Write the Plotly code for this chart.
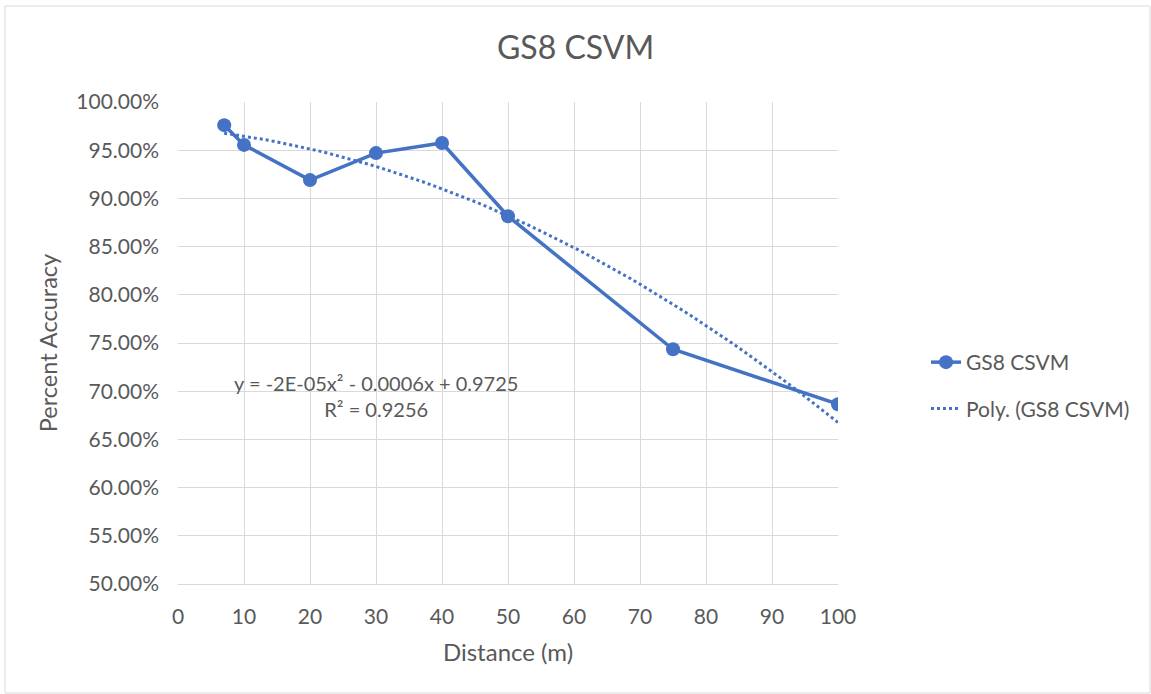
import numpy as np
import plotly.graph_objects as go

distance = [7, 10, 20, 30, 40, 50, 75, 100]
accuracy = [0.976, 0.9555, 0.919, 0.947, 0.9575, 0.8815, 0.7435, 0.6865]
x_ticks = list(range(0, 101, 10))
y_ticks = [0.5, 0.55, 0.6, 0.65, 0.7, 0.75, 0.8, 0.85, 0.9, 0.95, 1.0]

series_name = "GS8 CSVM"
trend_name = "Poly. (GS8 CSVM)"
color = "#4472C4"
font_family = "Lato, 'Open Sans', sans-serif"
text_color = "#595959"

# Polynomial (order 2) trend line fitted to the data, like Excel
coef = np.polyfit(distance, accuracy, 2)
trend_x = np.linspace(min(distance), max(distance), 60)
trend_y = np.polyval(coef, trend_x)

W, H = 1151, 694
L, R, T, B = 178, 838, 102, 584

fig = go.Figure()
fig.add_trace(go.Scatter(
    x=distance, y=accuracy, mode="lines+markers", name=series_name,
    line=dict(color=color, width=3.5), marker=dict(size=14, color=color),
    legendgroup="a",
))
fig.add_trace(go.Scatter(
    x=trend_x, y=trend_y, mode="lines", name=trend_name,
    line=dict(color=color, width=3, dash="dot"),
    legendgroup="b",
))

def px_x(p):
    return (p - L) / (R - L)

def px_y(p):
    return (B - p) / (B - T)

fig.update_layout(
    width=W, height=H,
    margin=dict(l=L, r=W - R, t=T, b=H - B),
    paper_bgcolor="white", plot_bgcolor="white",
    font=dict(family=font_family, color=text_color, size=21),
    title=dict(text="GS8 CSVM", x=0.5, xanchor="center", xref="container",
               y=1 - 48 / H, yanchor="middle",
               font=dict(size=32, color=text_color, family=font_family)),
    showlegend=True,
    legend=dict(x=px_x(926), y=px_y(342), xanchor="left", yanchor="top",
                font=dict(size=21, color=text_color, family=font_family),
                tracegroupgap=16, bgcolor="rgba(0,0,0,0)"),
    xaxis=dict(range=[0, 100], tickvals=x_ticks, ticktext=[str(v) for v in x_ticks],
               showgrid=True, gridcolor="#D9D9D9", gridwidth=1,
               showline=True, linecolor="#D9D9D9", linewidth=1,
               zeroline=False, ticks="", ticklen=0, ticklabelstandoff=14,
               title=dict(text="Distance (m)", font=dict(size=24, color=text_color), standoff=16),
               tickfont=dict(size=21, color=text_color)),
    yaxis=dict(range=[0.5, 1.0], tickvals=y_ticks,
               ticktext=[f"{v*100:.2f}%" for v in y_ticks],
               showgrid=True, gridcolor="#D9D9D9", gridwidth=1,
               showline=False, zeroline=False, ticks="", ticklabelstandoff=18,
               title=dict(text="Percent Accuracy", font=dict(size=23.5, color=text_color), standoff=12),
               tickfont=dict(size=21, color=text_color)),
    annotations=[dict(
        text="y = -2E-05x² - 0.0006x + 0.9725<br>R² = 0.9256",
        xref="paper", yref="paper", x=px_x(376), y=px_y(396),
        xanchor="center", yanchor="middle", showarrow=False, align="center",
        font=dict(size=20, color=text_color, family=font_family),
    )],
    shapes=[dict(type="rect", xref="paper", yref="paper",
                 x0=px_x(5), x1=px_x(1150), y0=px_y(693), y1=px_y(6),
                 line=dict(color="#D9D9D9", width=1), fillcolor="rgba(0,0,0,0)",
                 layer="below")],
)

fig.write_html("out.html", post_script="document.body.style.margin='0';",
               config={"displayModeBar": False})
